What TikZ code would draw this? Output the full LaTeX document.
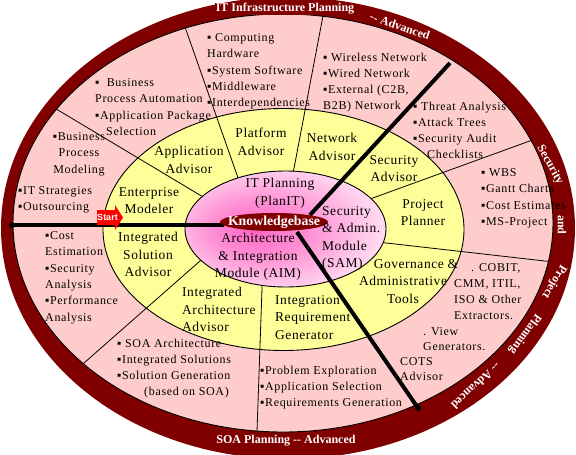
\documentclass[tikz,border=0pt]{standalone}
\usepackage{fontspec}
\setmainfont{Liberation Serif}[LetterSpace=4]
\newfontfamily\pinkfont{Liberation Serif}[LetterSpace=5.5]
\newfontfamily\ringfont{Liberation Serif}
\newfontfamily\startfont{Liberation Sans}
\definecolor{ringred}{RGB}{128,0,0}
\definecolor{ringpink}{RGB}{255,204,204}
\definecolor{ringyellow}{RGB}{255,255,153}
\definecolor{glowpink}{RGB}{255,100,195}
\definecolor{startred}{RGB}{255,0,0}
\pgfdeclareradialshading{kbglow}{\pgfpoint{-8.5bp}{0bp}}{color(0bp)=(glowpink);color(12bp)=(glowpink!72!white);color(36bp)=(white);color(50bp)=(white)}
\begin{document}
\begin{tikzpicture}[x=1pt,y=-1pt,
  pinktext/.style={font=\pinkfont\fontsize{12}{16.3}\selectfont,align=left,inner sep=0pt,anchor=north west},
  yelltext/.style={font=\fontsize{13.5}{17.5}\selectfont,align=center,inner sep=0pt,anchor=north},
  ringtext/.style={font=\ringfont\bfseries\fontsize{12}{13}\selectfont,text=white,inner sep=0.5pt},
  divider/.style={draw=black,line width=0.8pt},
  spoke/.style={draw=black,line width=4pt},
  rimborder/.style={draw=black,line width=0.9pt},
  kbtext/.style={font=\ringfont\bfseries\fontsize{13.8}{15}\selectfont,text=white,inner sep=0pt},
  starttext/.style={font=\startfont\bfseries\fontsize{9}{10}\selectfont,text=white,inner sep=0pt}]
\useasboundingbox (0,0) rectangle (576,455);
% rings
\fill[ringred] (288,228) ellipse [x radius=287pt, y radius=231pt];
\filldraw[fill=ringpink,rimborder] (283,223) ellipse [x radius=270pt, y radius=209pt];
\filldraw[fill=ringyellow,rimborder] (283.5,229.5) ellipse [x radius=180.5pt, y radius=121pt];
% thin dividers
\begin{scope}
\clip (283,223) ellipse [x radius=270pt, y radius=209pt];
\draw[divider] (174.6,-2.6) -- (247.4,204.6);
\draw[divider] (326,0) -- (288,200);
\draw[divider] (350,206.3) -- (560,130);
\draw[divider] (360,240) -- (580,265);
\draw[divider] (263,260) -- (256,460);
\draw[divider] (231,233.75) -- (38.8,402.7);
\draw[divider] (8.2,80.2) -- (234,215.5);
\end{scope}
% inner white glow ellipse
\shade[shading=kbglow] (285.5,229) ellipse [x radius=100.5pt, y radius=58pt];
\draw[rimborder] (285.5,229) ellipse [x radius=100.5pt, y radius=58pt];
% spokes
\coordinate (kbNE) at (310,215);
\coordinate (rimNE) at (450,63);
\coordinate (kbSE) at (297,232);
\coordinate (rimSE) at (418,408);
\coordinate (rimW) at (12,225);
\coordinate (kbW) at (224,225);
\draw[spoke] (kbNE) -- (rimNE);
\draw[spoke] (kbSE) -- (rimSE);
\draw[spoke] (rimW) -- (kbW);
\fill (rimSE) circle (3pt);
\fill (rimW) circle (3pt);
% knowledgebase
\fill[ringred] (274,222) ellipse [x radius=54pt, y radius=9pt];
\node[kbtext] (kb) at (274,222.5) {Knowledgebase};
% pink ring texts
\node[pinktext] (bpa) at (95,78.5) {▪\ \ Business\\Process Automation\\▪Application Package\\\hspace*{11pt}Selection};
\node[pinktext] (chw) at (207,33.5) {▪\ Computing\\Hardware\\▪System Software\\▪Middleware\\▪Interdependencies};
\node[pinktext] (wnet) at (323,52.5) {▪ Wireless Network\\▪Wired Network\\▪External (C2B,\\B2B) Network};
\node[pinktext] (threat) at (413,101.5) {▪ Threat Analysis\\▪Attack Trees\\▪Security Audit\\\hspace*{14pt}Checklists};
\node[pinktext] (wbs) at (481,168.5) {▪ WBS\\▪Gantt Charts\\▪Cost Estimates\\▪MS-Project};
\node[pinktext,font=\pinkfont\fontsize{12}{15.8}\selectfont] (cobit) at (454,263.5) {\hspace*{17pt}. COBIT,\\CMM, ITIL,\\ISO \& Other\\Extractors.};
\node[pinktext,font=\pinkfont\fontsize{12}{15.2}\selectfont] (view) at (423,327.5) {. View\\Generators.};
\node[pinktext,font=\pinkfont\fontsize{12}{15.2}\selectfont] (cots) at (400,357.5) {COTS\\Advisor};
\node[pinktext] (prob) at (260,365.5) {▪Problem Exploration\\▪Application Selection\\▪Requirements Generation};
\node[pinktext] (soa) at (117,338.5) {▪ SOA Architecture\\▪Integrated Solutions\\▪Solution Generation\\\hspace*{27pt}(based on SOA)};
\node[pinktext] (cost) at (45,231.5) {▪Cost\\Estimation\\▪Security\\Analysis\\▪Performance\\Analysis};
\node[pinktext,align=center,anchor=north] (bpm) at (79,132.5) {▪Business\\Process\\Modeling};
\node[pinktext] (its) at (18,186.5) {▪IT Strategies\\▪Outsourcing};
% yellow ring texts
\node[yelltext] (appadv) at (189,146) {Application\\Advisor};
\node[yelltext] (platadv) at (261,128) {Platform\\Advisor};
\node[yelltext] (netadv) at (332,133) {Network\\Advisor};
\node[yelltext] (secadv) at (394,155) {Security\\Advisor};
\node[yelltext] (projpl) at (423,199) {Project\\Planner};
\node[yelltext] (gov) at (403,259) {\hspace*{26pt}Governance \&\\Administrative\\Tools};
\node[yelltext,align=left,anchor=north west] (irg) at (275,295) {Integration\\Requirement\\Generator};
\node[yelltext,align=left,anchor=north west] (iaa) at (182,287) {Integrated\\Architecture\\Advisor};
\node[yelltext] (isa) at (148,232) {Integrated\\Solution\\Advisor};
\node[yelltext] (em) at (149,187) {Enterprise\\Modeler};
% white ellipse texts
\node[yelltext] (planit) at (280,178) {IT Planning\\(PlanIT)};
\node[yelltext,align=left,anchor=north west] (sam) at (322,206) {Security\\\& Admin.\\Module\\(SAM)};
\node[yelltext] (aim) at (258,233) {Architecture\\\& Integration\\Module (AIM)};
% start arrow
\fill[startred] (97,210) -- (115,210) -- (115,205) -- (123,217.5) -- (115,230) -- (115,225) -- (97,225) -- cycle;
\node[starttext] (start) at (107.5,217.5) {Start};
% outer ring titles
\node[ringtext,fill=ringred] (ttop) at (285,9) {IT Infrastructure Planning};
\node[ringtext,rotate=-19] (ttopadv) at (400,26) {-{}- Advanced};
\node[ringtext] (tbot) at (286,441) {SOA Planning -{}- Advanced};
\node[ringtext,rotate=-61] (tsec) at (550,165) {Security};
\node[ringtext,rotate=-90] (tand) at (562,225) {and};
\node[ringtext,rotate=-121] (tproj) at (554,282) {Project};
\node[ringtext,rotate=-126] (tplan) at (525,334) {Planning};
\node[ringtext,rotate=-137] (tadv) at (476,386) {-{}- Advanced};
\end{tikzpicture}
\end{document}
